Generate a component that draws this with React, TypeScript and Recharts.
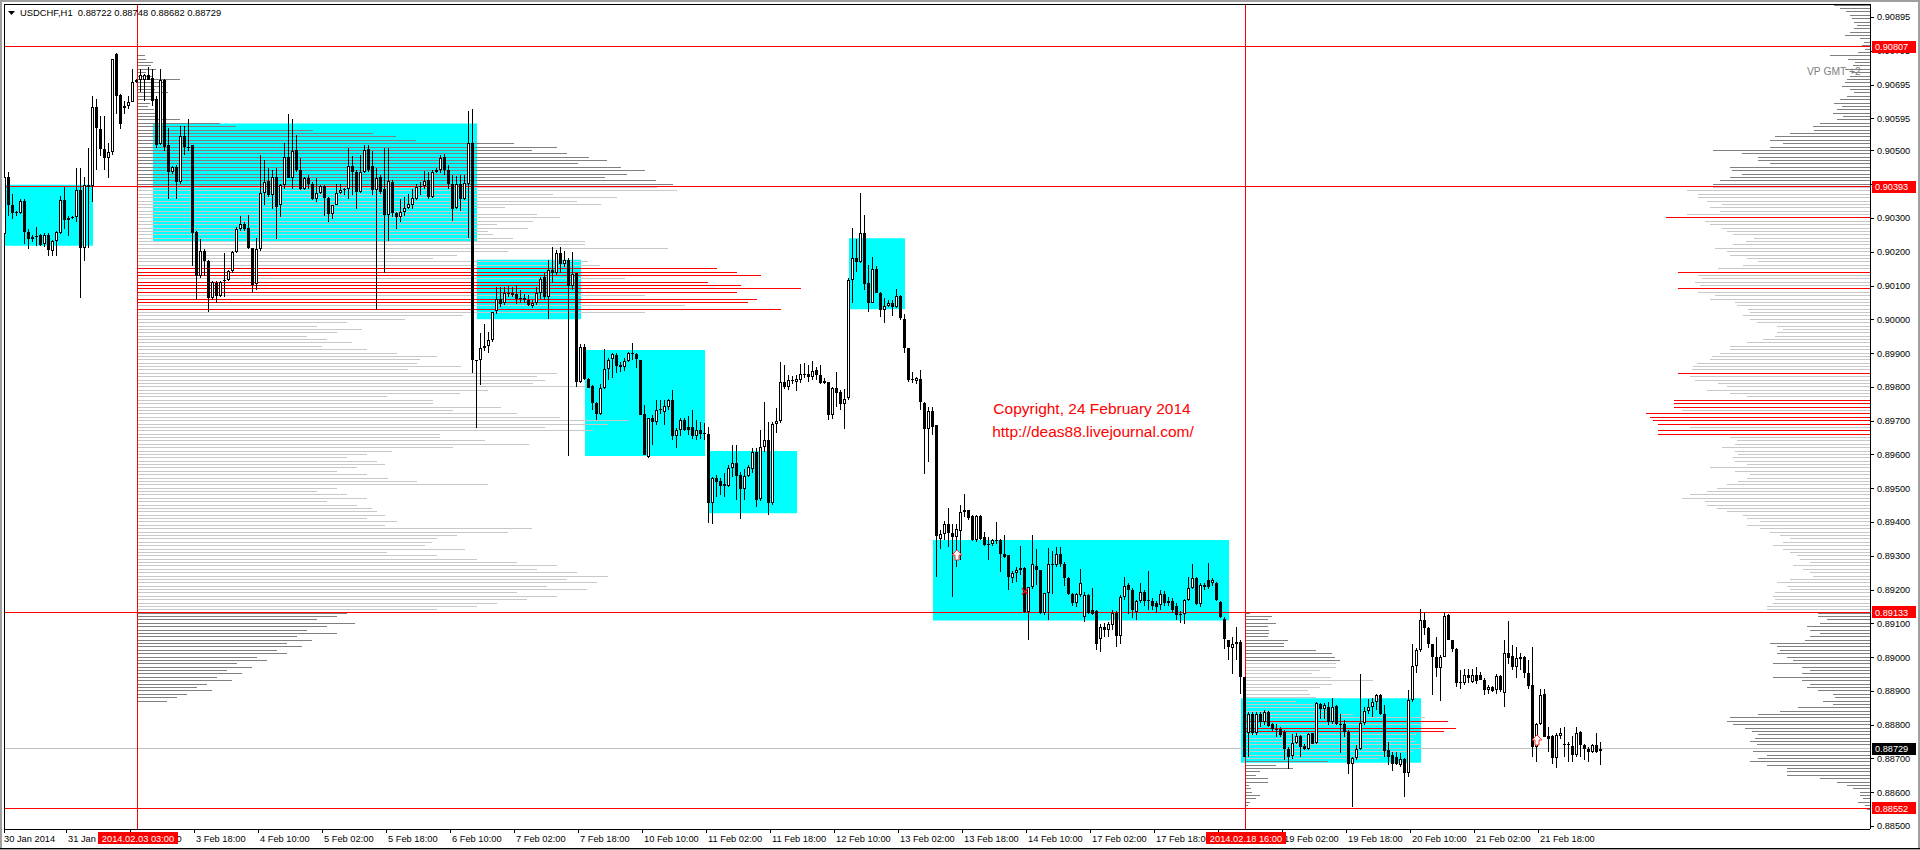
import { Bar, ComposedChart, ReferenceArea, ReferenceDot, ReferenceLine, XAxis, YAxis } from "recharts"

// USDCHF H1 bars, one row per hour: open, high, low, close (in 1e-5)
const jan30 = [
  [90252, 90462, 90237, 90422], [90422, 90437, 90307, 90337], [90337, 90372, 90297, 90315], [90315, 90322, 90307, 90317],
  [90315, 90357, 90312, 90349], [90349, 90357, 90222, 90259],
]
const jan31 = [
  [90259, 90267, 90207, 90237], [90237, 90250, 90230, 90244], [90244, 90272, 90217, 90247], [90249, 90252, 90217, 90220],
  [90223, 90255, 90215, 90250], [90250, 90255, 90187, 90205], [90202, 90235, 90187, 90232], [90232, 90262, 90187, 90257],
  [90255, 90365, 90252, 90352], [90352, 90392, 90267, 90295], [90295, 90307, 90247, 90301], [90301, 90305, 90298, 90302],
  [90304, 90447, 90287, 90384], [90384, 90449, 90062, 90210], [90210, 90422, 90172, 90397], [90392, 90507, 90212, 90397],
  [90395, 90662, 90347, 90629], [90629, 90652, 90442, 90565], [90562, 90602, 90482, 90505], [90505, 90602, 90442, 90477],
  [90477, 90522, 90417, 90494], [90494, 90772, 90487, 90772], [90785, 90787, 90607, 90662], [90665, 90667, 90562, 90577],
]
const feb03 = [
  [90630, 90647, 90607, 90627], [90632, 90662, 90622, 90644], [90642, 90742, 90642, 90702], [90702, 90710, 90700, 90707],
  [90707, 90742, 90672, 90724], [90707, 90727, 90647, 90724], [90722, 90747, 90707, 90709], [90715, 90742, 90632, 90647],
  [90652, 90660, 90507, 90517], [90519, 90742, 90517, 90707], [90709, 90712, 90497, 90509], [90515, 90567, 90357, 90437],
  [90437, 90455, 90430, 90451], [90451, 90457, 90357, 90407], [90407, 90572, 90402, 90542], [90542, 90572, 90487, 90509],
  [90511, 90592, 90497, 90507], [90515, 90517, 90157, 90255], [90257, 90262, 90057, 90127], [90127, 90237, 90122, 90202],
  [90202, 90207, 90127, 90172], [90172, 90177, 90022, 90062], [90062, 90112, 90057, 90109], [90107, 90112, 90047, 90069],
]
const feb04 = [
  [90069, 90112, 90065, 90109], [90112, 90197, 90067, 90117], [90115, 90147, 90112, 90144], [90144, 90202, 90137, 90199],
  [90199, 90272, 90197, 90267], [90267, 90307, 90262, 90282], [90282, 90287, 90262, 90267], [90271, 90309, 90207, 90210],
  [90210, 90212, 90077, 90102], [90105, 90242, 90087, 90207], [90207, 90487, 90202, 90375], [90375, 90472, 90337, 90405],
  [90409, 90447, 90362, 90367], [90369, 90442, 90327, 90422], [90422, 90447, 90237, 90332], [90337, 90402, 90302, 90397],
  [90397, 90522, 90387, 90479], [90479, 90607, 90417, 90419], [90419, 90592, 90387, 90499], [90502, 90547, 90437, 90442],
  [90442, 90477, 90382, 90387], [90387, 90422, 90382, 90417], [90417, 90427, 90387, 90402], [90402, 90407, 90352, 90357],
]
const feb05 = [
  [90357, 90417, 90347, 90374], [90374, 90399, 90371, 90395], [90395, 90397, 90307, 90359], [90359, 90362, 90287, 90312],
  [90312, 90339, 90297, 90337], [90339, 90402, 90337, 90375], [90375, 90402, 90372, 90382], [90382, 90389, 90367, 90387],
  [90387, 90507, 90357, 90454], [90454, 90482, 90367, 90435], [90437, 90442, 90327, 90377], [90377, 90487, 90375, 90437],
  [90435, 90517, 90432, 90502], [90505, 90517, 90437, 90442], [90454, 90497, 90367, 90382], [90382, 90447, 90027, 90419],
  [90422, 90427, 90372, 90377], [90387, 90507, 90137, 90309], [90309, 90507, 90232, 90409], [90407, 90412, 90302, 90315],
  [90315, 90317, 90267, 90302], [90302, 90357, 90287, 90317], [90317, 90362, 90307, 90329], [90329, 90372, 90327, 90342],
]
const feb06 = [
  [90337, 90387, 90327, 90359], [90357, 90402, 90352, 90392], [90392, 90407, 90367, 90394], [90394, 90439, 90387, 90409],
  [90412, 90437, 90357, 90362], [90362, 90442, 90359, 90437], [90437, 90449, 90432, 90442], [90442, 90487, 90432, 90477],
  [90479, 90489, 90427, 90442], [90442, 90457, 90387, 90402], [90402, 90427, 90292, 90327], [90329, 90424, 90327, 90402],
  [90402, 90427, 90322, 90355], [90355, 90427, 90352, 90404], [90402, 90617, 90242, 90522], [90522, 90622, 89840, 89879],
  [89879, 89880, 89677, 89877], [89879, 89958, 89805, 89914], [89914, 89987, 89905, 89920], [89920, 89963, 89899, 89940],
  [89940, 90022, 89933, 90022], [90025, 90096, 90017, 90059], [90059, 90096, 90037, 90045], [90047, 90096, 90042, 90077],
]
const feb07 = [
  [90077, 90098, 90066, 90074], [90077, 90096, 90067, 90072], [90074, 90101, 90046, 90060], [90060, 90086, 90049, 90062],
  [90064, 90076, 90047, 90057], [90057, 90071, 90039, 90042], [90040, 90057, 90032, 90049], [90049, 90096, 90042, 90077],
  [90077, 90124, 90059, 90119], [90124, 90136, 90057, 90065], [90065, 90177, 90000, 90147], [90147, 90215, 90106, 90136],
  [90136, 90205, 90131, 90195], [90195, 90215, 90136, 90165], [90165, 90203, 90155, 90177], [90177, 90180, 89595, 90098],
  [90098, 90200, 90086, 90133], [90136, 90136, 89800, 89815], [89815, 89928, 89810, 89917], [89917, 89928, 89820, 89822],
  [89822, 89825, 89798, 89798], [89802, 89805, 89731, 89752], [89752, 89756, 89703, 89721], [89721, 89808, 89716, 89798],
]
const feb10 = [
  [89798, 89911, 89795, 89854], [89854, 89884, 89820, 89879], [89881, 89901, 89825, 89897], [89893, 89899, 89840, 89863],
  [89864, 89874, 89845, 89859], [89859, 89884, 89847, 89876], [89876, 89904, 89874, 89899], [89899, 89931, 89879, 89897],
  [89897, 89901, 89855, 89881], [89879, 89879, 89716, 89716], [89719, 89746, 89597, 89597], [89593, 89709, 89588, 89709],
  [89709, 89716, 89627, 89696], [89696, 89761, 89687, 89731], [89731, 89761, 89721, 89733], [89726, 89761, 89687, 89743],
  [89741, 89765, 89731, 89761], [89761, 89790, 89642, 89654], [89654, 89677, 89618, 89672], [89672, 89707, 89654, 89703],
  [89703, 89709, 89670, 89672], [89680, 89713, 89657, 89672], [89680, 89731, 89647, 89654], [89654, 89701, 89642, 89672],
]
const feb11 = [
  [89672, 89696, 89647, 89660], [89660, 89694, 89642, 89662], [89660, 89680, 89397, 89457], [89457, 89534, 89395, 89529],
  [89529, 89539, 89474, 89519], [89521, 89529, 89479, 89506], [89506, 89544, 89474, 89512], [89506, 89568, 89504, 89561],
  [89561, 89628, 89534, 89575], [89575, 89628, 89465, 89536], [89539, 89548, 89410, 89499], [89499, 89558, 89465, 89536],
  [89536, 89568, 89534, 89563], [89558, 89618, 89544, 89608], [89608, 89618, 89445, 89465], [89467, 89672, 89463, 89623],
  [89623, 89756, 89608, 89644], [89644, 89697, 89420, 89455], [89455, 89697, 89450, 89690], [89690, 89736, 89662, 89700],
  [89700, 89874, 89692, 89815], [89815, 89864, 89795, 89800], [89800, 89835, 89790, 89820], [89820, 89832, 89808, 89818],
]
const feb12 = [
  [89815, 89835, 89788, 89823], [89820, 89869, 89810, 89838], [89838, 89871, 89825, 89838], [89838, 89864, 89815, 89828],
  [89828, 89876, 89820, 89848], [89850, 89859, 89820, 89835], [89835, 89864, 89808, 89810], [89810, 89825, 89808, 89818],
  [89815, 89815, 89702, 89716], [89716, 89800, 89706, 89798], [89798, 89844, 89741, 89782], [89785, 89790, 89731, 89749],
  [89749, 89795, 89674, 89765], [89766, 90121, 89761, 90116], [90116, 90269, 90047, 90180], [90180, 90239, 90141, 90170],
  [90170, 90373, 90167, 90256], [90256, 90308, 90086, 90104], [90106, 90160, 90022, 90049], [90049, 90185, 90047, 90148],
  [90150, 90157, 90077, 90079], [90079, 90081, 90007, 90029], [90029, 90062, 89990, 90039], [90039, 90057, 90035, 90049],
]
const feb13 = [
  [90049, 90057, 90009, 90037], [90037, 90091, 90032, 90069], [90069, 90072, 89997, 90005], [90002, 90017, 89899, 89914],
  [89914, 89914, 89815, 89820], [89820, 89844, 89810, 89822], [89818, 89830, 89808, 89825], [89822, 89849, 89731, 89756],
  [89753, 89756, 89541, 89674], [89674, 89741, 89578, 89729], [89729, 89741, 89657, 89682], [89687, 89687, 89238, 89358],
  [89351, 89376, 89321, 89364], [89364, 89403, 89346, 89394], [89394, 89440, 89326, 89368], [89368, 89395, 89178, 89356],
  [89356, 89395, 89267, 89378], [89374, 89450, 89287, 89430], [89430, 89484, 89415, 89435], [89435, 89435, 89405, 89413],
  [89417, 89420, 89345, 89346], [89346, 89420, 89341, 89417], [89417, 89420, 89348, 89351], [89356, 89371, 89328, 89331],
]
const feb14 = [
  [89331, 89356, 89287, 89336], [89334, 89351, 89328, 89348], [89348, 89400, 89336, 89346], [89348, 89351, 89252, 89305],
  [89305, 89361, 89292, 89295], [89302, 89302, 89198, 89236], [89233, 89255, 89218, 89248], [89248, 89267, 89223, 89258],
  [89258, 89328, 89243, 89265], [89265, 89267, 89131, 89134], [89134, 89208, 89050, 89208], [89208, 89361, 89203, 89275],
  [89270, 89321, 89213, 89257], [89257, 89259, 89129, 89131], [89131, 89190, 89124, 89190], [89190, 89324, 89109, 89275],
  [89275, 89314, 89188, 89275], [89272, 89326, 89267, 89305], [89305, 89326, 89267, 89275], [89277, 89282, 89210, 89233],
  [89233, 89236, 89183, 89188], [89188, 89190, 89151, 89161], [89161, 89190, 89149, 89188], [89183, 89262, 89178, 89220],
]
const feb17 = [
  [89119, 89193, 89104, 89183], [89183, 89188, 89129, 89131], [89139, 89206, 89124, 89129], [89137, 89139, 89020, 89040],
  [89055, 89099, 89015, 89089], [89089, 89100, 89060, 89080], [89080, 89105, 89060, 89099], [89094, 89140, 89080, 89131],
  [89131, 89135, 89030, 89062], [89062, 89185, 89040, 89178], [89178, 89238, 89168, 89210], [89213, 89218, 89129, 89198],
  [89198, 89205, 89115, 89139], [89134, 89170, 89110, 89166], [89166, 89218, 89159, 89193], [89193, 89200, 89150, 89166],
  [89166, 89255, 89139, 89168], [89166, 89175, 89140, 89151], [89159, 89165, 89130, 89147], [89154, 89200, 89140, 89188],
  [89188, 89195, 89150, 89159], [89166, 89178, 89150, 89159], [89166, 89175, 89130, 89139], [89151, 89160, 89110, 89124],
]
const feb18 = [
  [89124, 89135, 89100, 89127], [89127, 89173, 89099, 89170], [89170, 89238, 89166, 89206], [89206, 89277, 89203, 89233],
  [89233, 89238, 89154, 89157], [89157, 89218, 89149, 89213], [89208, 89220, 89200, 89213], [89228, 89279, 89203, 89208],
  [89218, 89233, 89210, 89228], [89218, 89223, 89165, 89168], [89163, 89166, 89115, 89119], [89114, 89119, 89025, 89054],
  [89050, 89050, 88991, 89030], [89028, 89060, 88951, 89040], [89040, 89090, 88991, 89045], [89045, 89050, 88892, 88940],
  [88940, 88942, 88705, 88705], [88776, 88838, 88705, 88831], [88831, 88838, 88768, 88774], [88774, 88838, 88768, 88833],
  [88833, 88838, 88794, 88808], [88808, 88843, 88800, 88838], [88838, 88841, 88794, 88796], [88801, 88805, 88782, 88786],
]
const feb19 = [
  [88786, 88803, 88764, 88786], [88786, 88793, 88764, 88769], [88779, 88784, 88695, 88729], [88729, 88734, 88670, 88705],
  [88707, 88772, 88697, 88746], [88746, 88774, 88744, 88766], [88766, 88769, 88705, 88734], [88737, 88744, 88724, 88727],
  [88727, 88774, 88724, 88772], [88774, 88776, 88744, 88744], [88746, 88868, 88744, 88863], [88861, 88865, 88818, 88845],
  [88845, 88865, 88818, 88858], [88853, 88868, 88798, 88808], [88808, 88880, 88803, 88853], [88855, 88858, 88798, 88803],
  [88803, 88833, 88715, 88801], [88801, 88813, 88764, 88779], [88779, 88784, 88655, 88685], [88685, 88705, 88557, 88700],
  [88700, 88739, 88695, 88727], [88727, 88950, 88725, 88806], [88806, 88853, 88799, 88841], [88841, 88877, 88833, 88853],
]
const feb20 = [
  [88853, 88880, 88823, 88868], [88868, 88892, 88843, 88887], [88887, 88892, 88828, 88831], [88831, 88858, 88705, 88723],
  [88725, 88749, 88680, 88705], [88710, 88720, 88663, 88685], [88705, 88720, 88680, 88685], [88680, 88715, 88675, 88697],
  [88697, 88700, 88586, 88657], [88657, 88902, 88645, 88872], [88872, 89040, 88868, 88973], [88973, 89028, 88952, 89022],
  [89022, 89141, 89015, 89111], [89109, 89134, 89065, 89085], [89085, 89090, 89026, 89040], [89038, 89040, 88887, 88999],
  [88999, 89060, 88942, 88969], [88969, 89006, 88870, 89001], [89001, 89134, 89000, 89121], [89124, 89129, 89050, 89050],
  [89050, 89052, 89015, 89023], [89023, 89026, 88912, 88924], [88924, 88961, 88907, 88927], [88924, 88966, 88917, 88947],
]
const feb21 = [
  [88947, 88964, 88922, 88937], [88927, 88964, 88922, 88947], [88947, 88971, 88920, 88930], [88947, 88957, 88932, 88932],
  [88932, 88937, 88887, 88902], [88902, 88917, 88892, 88910], [88910, 88914, 88897, 88900], [88902, 88950, 88892, 88944],
  [88944, 88947, 88897, 88902], [88894, 89050, 88853, 89011], [89011, 89106, 88981, 88996], [89003, 89035, 88961, 88971],
  [88971, 89030, 88937, 88996], [88993, 89013, 88961, 89001], [89001, 89003, 88937, 88952], [88952, 88991, 88907, 88914],
  [88917, 89030, 88705, 88734], [88734, 88805, 88690, 88803], [88803, 88907, 88798, 88887], [88890, 88907, 88762, 88762],
  [88766, 88793, 88720, 88759], [88766, 88769, 88685, 88700], [88700, 88774, 88673, 88769], [88766, 88789, 88759, 88774],
]
const feb24 = [
  [88742, 88793, 88705, 88742], [88742, 88749, 88690, 88739], [88737, 88766, 88690, 88710], [88710, 88793, 88705, 88776],
  [88779, 88782, 88705, 88739], [88739, 88744, 88695, 88729], [88729, 88734, 88690, 88720], [88720, 88744, 88715, 88739],
  [88739, 88776, 88715, 88720], [88722, 88748, 88682, 88729],
]

// time axis: bar index of each label
const TIME_TICKS = [0, 16, 32, 48, 64, 80, 96, 112, 128, 144, 160, 176, 192, 208, 224, 240, 256, 272, 288, 304, 320, 336, 352, 368, 384]
const TIME_LABELS = [
  "30 Jan 2014", "31 Jan 10:00", "3 Feb 02:00", "3 Feb 18:00", "4 Feb 10:00", "5 Feb 02:00", "5 Feb 18:00",
  "6 Feb 10:00", "7 Feb 02:00", "7 Feb 18:00", "10 Feb 10:00", "11 Feb 02:00", "11 Feb 18:00", "12 Feb 10:00",
  "13 Feb 02:00", "13 Feb 18:00", "14 Feb 10:00", "17 Feb 02:00", "17 Feb 18:00", "18 Feb 10:00", "19 Feb 02:00",
  "19 Feb 18:00", "20 Feb 10:00", "21 Feb 02:00", "21 Feb 18:00",
]
const MARK_BARS = [33, 310]
const MARK_LABELS = ["2014.02.03 03:00", "2014.02.18 16:00"]

const PRICE_TICKS = [
  0.885, 0.886, 0.887, 0.888, 0.889, 0.89, 0.891, 0.892, 0.893, 0.894, 0.895, 0.896, 0.897, 0.898, 0.899,
  0.9, 0.901, 0.902, 0.903, 0.904, 0.905, 0.90595, 0.90695, 0.90795, 0.90895,
]
const LEVELS = [0.90807, 0.90393, 0.89133, 0.88552]
const LAST_PRICE = 0.88729

// rectangles: first bar, last bar, top, bottom
const BOX_FROM = [0, 37, 118, 145, 176, 211, 232, 309]
const BOX_TO = [22, 118, 144, 175, 198, 225, 306, 354]
const BOX_TOP = [0.90398, 0.9058, 0.90176, 0.89909, 0.8961, 0.9024, 0.89347, 0.88878]
const BOX_BOTTOM = [0.90218, 0.9023, 0.9, 0.89595, 0.89426, 0.9003, 0.89108, 0.88687]

// arrows / cross objects
const ARROW_BARS = [238, 383]
const ARROW_PRICES = [0.89317, 0.88769]
const CROSS_BAR = 255
const CROSS_PRICE = 0.89194

// volume profiles, one value per pip from the top level down
const VP_MAIN_TOP = 9078
const vpMain = [
  8, 9, 16, 14, 19, 9, 15, 43, 29, 26, 18, 31, 16, 19, 13, 11, 17, 19, 19, 43,
  83, 99, 176, 236, 259, 279, 377, 420, 395, 430, 452, 470, 441, 484, 508, 490, 468, 519, 536, 520,
  540, 416, 480, 440, 464, 368, 330, 400, 423, 396, 360, 391, 351, 356, 376, 448, 448, 531, 371, 320,
  296, 451, 463, 580, 600, 624, 488, 571, 604, 664, 600, 508, 620, 611, 548, 644, 508, 326, 268, 210,
  180, 225, 200, 170, 190, 215, 185, 230, 260, 300, 283, 280, 324, 271, 420, 400, 408, 396, 448, 351,
  323, 250, 296, 296, 364, 316, 380, 423, 491, 471, 408, 456, 303, 303, 348, 392, 316, 255, 230, 210,
  240, 248, 220, 200, 230, 251, 280, 351, 200, 180, 210, 230, 190, 220, 235, 240, 248, 230, 260, 248,
  395, 371, 320, 300, 295, 288, 328, 250, 300, 340, 380, 420, 400, 440, 471, 430, 460, 410, 450, 380,
  420, 390, 360, 340, 300, 210, 200, 180, 218, 190, 170, 200, 160, 175, 150, 165, 140, 150, 120, 130,
  100, 115, 90, 105, 80, 95, 70, 60, 75, 50, 40, 30,
]
const VP_SESSION_TOP = 8913
const vpSession = [
  5, 27, 23, 31, 23, 24, 24, 23, 43, 39, 39, 71, 87, 90, 95, 91, 91, 75, 67, 86,
  128, 87, 75, 63, 65, 71, 51, 68, 83, 86, 108, 180, 203, 175, 211, 199, 171, 168, 171, 175,
  175, 168, 141, 134, 83, 31, 48, 15, 11, 23, 23, 4, 6, 7, 15, 11, 5, 3,
]
const VP_RIGHT_TOP = 9093
const vpRight = [
  36, 30, 24, 20, 18, 16, 13, 16, 20, 25, 10, 6, 8, 5, 12, 40, 22, 15, 17, 25,
  18, 20, 23, 25, 28, 20, 16, 23, 30, 36, 28, 33, 37, 27, 33, 50, 57, 56, 80, 95,
  100, 87, 100, 157, 128, 112, 112, 100, 140, 138, 128, 140, 150, 157, 157, 183, 172, 172, 163, 148,
  160, 150, 183, 204, 165, 160, 148, 143, 137, 116, 124, 137, 155, 143, 140, 123, 112, 127, 152, 192,
  172, 168, 175, 170, 192, 172, 155, 160, 135, 133, 122, 120, 127, 120, 113, 93, 87, 93, 95, 107,
  123, 140, 140, 150, 158, 160, 173, 177, 178, 192, 180, 175, 152, 143, 163, 140, 123, 196, 196, 196,
  188, 224, 220, 217, 212, 180, 212, 212, 140, 133, 135, 148, 135, 132, 137, 135, 123, 160, 135, 120,
  123, 132, 143, 153, 163, 180, 188, 165, 163, 153, 143, 127, 123, 110, 123, 110, 100, 90, 80, 87,
  97, 87, 80, 73, 70, 60, 77, 67, 60, 57, 80, 93, 83, 80, 95, 97, 95, 97, 103, 103,
  52, 52, 43, 50, 63, 60, 50, 60, 65, 100, 93, 90, 93, 83, 77, 97, 68, 60, 68, 97,
  68, 60, 63, 52, 37, 35, 47, 37, 72, 90, 112, 140, 143, 137, 125, 118, 112, 115, 120, 113,
  112, 117, 103, 112, 120, 103, 83, 83, 83, 50, 33, 23, 17, 10, 10, 7, 12, 5, 3,
]

const X_MIN = -0.25
const X_MAX = 466.25
const Y_MIN = 0.884911
const Y_MAX = 0.909334
const VOL_PER_BAR = 4
const FONT = "'Liberation Sans', Arial, sans-serif"

const days = [jan30, jan31, feb03, feb04, feb05, feb06, feb07, feb10, feb11, feb12, feb13, feb14, feb17, feb18, feb19, feb20, feb21, feb24]
const candles = days.flat().map(([o, h, l, c], i) => ({ i, o: o / 1e5, h: h / 1e5, l: l / 1e5, c: c / 1e5 }))
const last = candles[candles.length - 1]

type ProfileLine = { price: number; from: number; to: number; color: string }

function buildProfile(top: number, vols: number[], anchor: number, dir: number, vaHigh: number, vaLow: number, redMin: number): ProfileLine[] {
  return vols.map((v, k) => {
    const pip = top - k
    const color = v >= redMin ? "#ff0000" : pip <= vaHigh && pip >= vaLow ? "#c8c8c8" : "#808080"
    return { price: pip / 1e4, from: anchor, to: anchor + (dir * v) / VOL_PER_BAR, color }
  })
}

const profileLines = [
  ...buildProfile(VP_MAIN_TOP, vpMain, 33, 1, 9039, 8914, 560),
  ...buildProfile(VP_SESSION_TOP, vpSession, 310, 1, 8898, 8870, 195),
  ...buildProfile(VP_RIGHT_TOP, vpRight, X_MAX, -1, 9039, 8914, 190),
]

const Candle = (props: any) => {
  const { x, y, width, height, payload } = props
  if (!payload || x == null || y == null) return null
  const top = Math.min(y, y + height)
  const bot = Math.max(y, y + height)
  const k = (bot - top) / (payload.h - payload.l || 1)
  const yO = top + (payload.h - payload.o) * k
  const yC = top + (payload.h - payload.c) * k
  const cx = Math.floor(x + width / 2)
  const bTop = Math.round(Math.min(yO, yC))
  const bBot = Math.round(Math.max(yO, yC))
  const wTop = Math.round(top)
  const wBot = Math.round(bot)
  const up = payload.c > payload.o
  return (
    <g>
      <rect x={cx} y={wTop} width={1} height={Math.max(1, wBot - wTop)} fill="#000" />
      <rect x={cx - 1} y={bTop} width={3} height={Math.max(1, bBot - bTop)} fill="#000" />
      {up && bBot - bTop > 2 && <rect x={cx} y={bTop + 1} width={1} height={bBot - bTop - 2} fill="#fff" />}
    </g>
  )
}

const TimeTick = (props: any) => {
  const { x, y, payload } = props
  const v = payload.value
  const m = MARK_BARS.indexOf(v)
  if (m >= 0) {
    return (
      <g>
        <rect x={Math.round(x) - 39} y={y + 3} width={80} height={12} fill="#ff0000" />
        <text x={x + 1} y={y + 12.5} textAnchor="middle" fill="#fff" fontSize={9.3} fontFamily={FONT}>
          {MARK_LABELS[m]}
        </text>
      </g>
    )
  }
  const idx = TIME_TICKS.indexOf(v)
  const tx = Math.max(Math.round(x) - 3, 4)
  return (
    <g>
      <rect x={tx} y={y} width={1} height={4} fill="#000" />
      <text x={x - 1} y={y + 12.5} fill="#000" fontSize={9.3} fontFamily={FONT}>
        {TIME_LABELS[idx]}
      </text>
    </g>
  )
}

const PriceTick = (props: any) => {
  const { x, y, payload } = props
  const v = payload.value
  const isLevel = LEVELS.indexOf(v) >= 0
  const isLast = v === LAST_PRICE
  if (isLevel || isLast) {
    return (
      <g>
        <rect x={x + 2} y={Math.round(y) - 6} width={44} height={12} fill={isLast ? "#000" : "#ff0000"} />
        <text x={x + 5} y={y + 3.5} fill="#fff" fontSize={9.2} fontFamily={FONT}>
          {v.toFixed(5)}
        </text>
      </g>
    )
  }
  return (
    <g>
      <rect x={x} y={Math.round(y)} width={4} height={1} fill="#000" />
      <text x={x + 7} y={y + 3.5} fill="#000" fontSize={9.2} fontFamily={FONT}>
        {v.toFixed(5)}
      </text>
    </g>
  )
}

const UpArrow = (props: any) => {
  const { cx, cy } = props
  if (cx == null || cy == null) return null
  const x = Math.round(cx)
  const y = Math.round(cy)
  const pts = `${x},${y} ${x + 5},${y + 5} ${x + 2},${y + 5} ${x + 2},${y + 10} ${x - 2},${y + 10} ${x - 2},${y + 5} ${x - 5},${y + 5}`
  return <polygon points={pts} fill="#fff" stroke="#ff3030" strokeWidth={1} />
}

const Cross = (props: any) => {
  const { cx, cy } = props
  if (cx == null || cy == null) return null
  return (
    <g stroke="#ff0000" strokeWidth={1.5}>
      <line x1={cx - 3} y1={cy - 3} x2={cx + 3} y2={cy + 3} />
      <line x1={cx - 3} y1={cy + 3} x2={cx + 3} y2={cy - 3} />
    </g>
  )
}

export default function App() {
  return (
    <div style={{ position: "relative", width: 1920, height: 850, background: "#fff", overflow: "hidden" }}>
      <style>{`body{margin:0} .recharts-reference-line line, .recharts-reference-area rect, .recharts-cartesian-axis-line { shape-rendering: crispEdges }`}</style>
      <ComposedChart width={1920} height={850} data={candles} margin={{ top: 4, right: 0, bottom: 0, left: 4 }}>
        <XAxis
          dataKey="i"
          type="number"
          domain={[X_MIN, X_MAX]}
          allowDataOverflow
          ticks={[...TIME_TICKS, ...MARK_BARS]}
          interval={0}
          height={21}
          tickSize={0}
          tickMargin={0}
          tickLine={false}
          axisLine={{ stroke: "#000" }}
          tick={(p: any) => <TimeTick {...p} />}
        />
        <YAxis
          orientation="right"
          type="number"
          domain={[Y_MIN, Y_MAX]}
          allowDataOverflow
          ticks={[...PRICE_TICKS, ...LEVELS, LAST_PRICE]}
          interval={0}
          width={50}
          tickSize={0}
          tickMargin={0}
          tickLine={false}
          axisLine={{ stroke: "#000" }}
          tick={(p: any) => <PriceTick {...p} />}
        />
        {BOX_FROM.map((from, k) => (
          <ReferenceArea
            key={`box-${k}`}
            x1={from}
            x2={BOX_TO[k]}
            y1={BOX_BOTTOM[k]}
            y2={BOX_TOP[k]}
            fill="#00ffff"
            fillOpacity={1}
            stroke="none"
            ifOverflow="visible"
            zIndex={-10}
          />
        ))}
        {profileLines.map((p, k) => (
          <ReferenceLine
            key={`vp-${k}`}
            segment={[{ x: p.from, y: p.price }, { x: p.to, y: p.price }]}
            stroke={p.color}
            strokeWidth={1}
            ifOverflow="visible"
            zIndex={50}
          />
        ))}
        <ReferenceLine y={LAST_PRICE} stroke="#c0c0c0" strokeWidth={1} zIndex={60} />
        {LEVELS.map((lv) => (
          <ReferenceLine key={`lv-${lv}`} y={lv} stroke="#ff0000" strokeWidth={1} zIndex={70} />
        ))}
        {MARK_BARS.map((b) => (
          <ReferenceLine key={`vl-${b}`} x={b} stroke="#ff0000" strokeWidth={1} zIndex={70} />
        ))}
        <ReferenceLine y={Y_MAX} stroke="#000" strokeWidth={1} zIndex={70} />
        <ReferenceLine x={X_MIN} stroke="#000" strokeWidth={1} zIndex={70} />
        <Bar
          dataKey={(d: any) => [d.l, d.h]}
          barSize={3}
          shape={(p: any) => <Candle {...p} />}
          isAnimationActive={false}
        />
        {ARROW_BARS.map((b, k) => (
          <ReferenceDot key={`ar-${b}`} x={b} y={ARROW_PRICES[k]} shape={(p: any) => <UpArrow {...p} />} zIndex={600} />
        ))}
        <ReferenceDot x={CROSS_BAR} y={CROSS_PRICE} shape={(p: any) => <Cross {...p} />} zIndex={600} />
      </ComposedChart>
      <svg width={1920} height={850} style={{ position: "absolute", left: 0, top: 0, pointerEvents: "none" }}>
        <rect x={0} y={0} width={1920} height={2} fill="#a0a0a0" />
        <rect x={0} y={0} width={2} height={850} fill="#a0a0a0" />
        <rect x={1918} y={0} width={2} height={850} fill="#a0a0a0" />
        <rect x={0} y={848} width={1920} height={1} fill="#000" />
        <rect x={0} y={849} width={1920} height={1} fill="#a0a0a0" />
        <polygon points="8,11 15,11 11.5,15" fill="#000" />
        <text x={20} y={16} fontSize={9.4} fontFamily={FONT} fill="#000" style={{ whiteSpace: "pre" }}>
          {`USDCHF,H1  ${last.o.toFixed(5)} ${last.h.toFixed(5)} ${last.l.toFixed(5)} ${last.c.toFixed(5)}`}
        </text>
        <text x={1807} y={75} fontSize={10.3} fontFamily={FONT} fill="#808080">
          VP GMT +2
        </text>
        <text x={1092} y={414} textAnchor="middle" fontSize={15.5} fontFamily={FONT} fill="#ff0000">
          Copyright, 24 February 2014
        </text>
        <text x={1093} y={437} textAnchor="middle" fontSize={15.5} fontFamily={FONT} fill="#ff0000">
          http://deas88.livejournal.com/
        </text>
      </svg>
    </div>
  )
}
